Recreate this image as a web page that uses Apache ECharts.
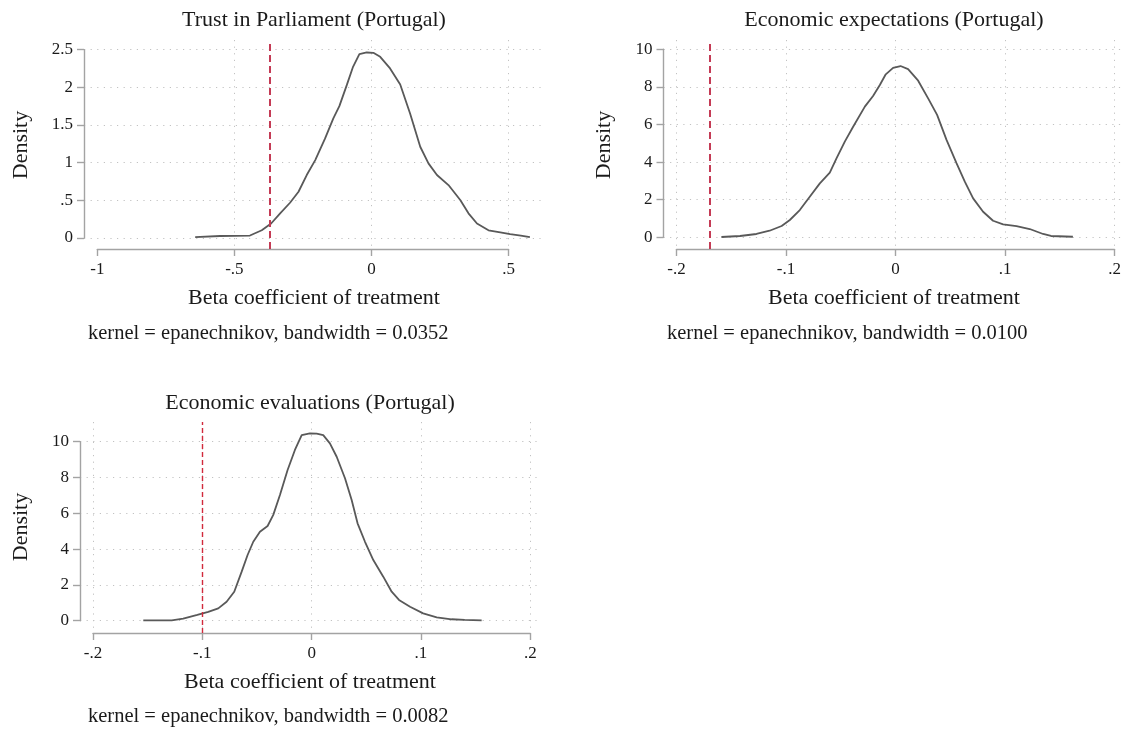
<!DOCTYPE html>
<html>
<head>
<meta charset="utf-8">
<script src="https://cdn.jsdelivr.net/npm/echarts@6/dist/echarts.min.js"></script>
<style>
html,body{margin:0;padding:0;background:#fff;}
#chart{width:1126px;height:731px;}
</style>
</head>
<body>
<div id="chart"></div>
<script>
// ---------- DATA ----------
const trustTitle = 'Trust in Parliament (Portugal)';
const trustNote = 'kernel = epanechnikov, bandwidth = 0.0352';
const trustX = [-0.643, -0.552, -0.443, -0.400, -0.366, -0.333, -0.297, -0.266, -0.236, -0.205, -0.169, -0.139, -0.117, -0.090, -0.068, -0.044, -0.017, 0.007, 0.032, 0.068, 0.105, 0.141, 0.178, 0.208, 0.239, 0.281, 0.324, 0.354, 0.385, 0.427, 0.470, 0.506, 0.545, 0.578];
const trustY = [0.01, 0.024, 0.03, 0.10, 0.19, 0.325, 0.466, 0.612, 0.834, 1.033, 1.321, 1.587, 1.750, 2.029, 2.264, 2.441, 2.463, 2.459, 2.405, 2.251, 2.038, 1.653, 1.21, 0.989, 0.834, 0.701, 0.502, 0.325, 0.19, 0.10, 0.073, 0.05, 0.03, 0.01];
const trustRef = [-0.366];
const trustXTicks = [-1, -0.5, 0, 0.5];
const trustYTicks = [0, 0.5, 1, 1.5, 2, 2.5];

const expTitle = 'Economic expectations (Portugal)';
const expNote = 'kernel = epanechnikov, bandwidth = 0.0100';
const expX = [-0.159, -0.142, -0.127, -0.115, -0.104, -0.0965, -0.0874, -0.0783, -0.0691, -0.060, -0.0539, -0.0463, -0.0387, -0.028, -0.0205, -0.0143, -0.0089, -0.0022, 0.0046, 0.0115, 0.0207, 0.0298, 0.038, 0.0466, 0.0557, 0.0633, 0.0709, 0.080, 0.0891, 0.0983, 0.1105, 0.1226, 0.1348, 0.142, 0.162];
const expY = [0.016, 0.07, 0.176, 0.35, 0.60, 0.92, 1.45, 2.16, 2.87, 3.44, 4.20, 5.09, 5.88, 6.95, 7.52, 8.10, 8.67, 9.01, 9.11, 8.95, 8.33, 7.39, 6.51, 5.18, 3.94, 2.96, 2.07, 1.36, 0.88, 0.69, 0.60, 0.44, 0.176, 0.07, 0.03];
const expRef = [-0.1687];
const expXTicks = [-0.2, -0.1, 0, 0.1, 0.2];
const expYTicks = [0, 2, 4, 6, 8, 10];

const evalTitle = 'Economic evaluations (Portugal)';
const evalNote = 'kernel = epanechnikov, bandwidth = 0.0082';
const evalX = [-0.154, -0.140, -0.128, -0.1175, -0.1046, -0.0946, -0.0854, -0.0778, -0.0708, -0.064, -0.0586, -0.0534, -0.0473, -0.0403, -0.0351, -0.029, -0.022, -0.0153, -0.0091, -0.0016, 0.0046, 0.0106, 0.0167, 0.0229, 0.0305, 0.0366, 0.042, 0.0488, 0.0564, 0.0655, 0.0732, 0.0799, 0.090, 0.102, 0.1144, 0.128, 0.140, 0.1555];
const evalY = [0.02, 0.02, 0.02, 0.11, 0.32, 0.49, 0.69, 1.06, 1.62, 2.74, 3.67, 4.41, 4.97, 5.29, 5.91, 7.02, 8.42, 9.54, 10.37, 10.47, 10.45, 10.37, 9.91, 9.16, 7.96, 6.74, 5.44, 4.41, 3.39, 2.46, 1.62, 1.16, 0.78, 0.41, 0.19, 0.08, 0.05, 0.02];
const evalRef = [-0.1046];
const evalXTicks = [-0.2, -0.1, 0, 0.1, 0.2];
const evalYTicks = [0, 2, 4, 6, 8, 10];

const xAxisTitle = 'Beta coefficient of treatment';
const yAxisTitle = 'Density';

// ---------- LAYOUT / STYLE ----------
const FONT = '"Liberation Serif", "Times New Roman", serif';
const TXT = '#1a1a1a';
const AXIS = '#a3a3a3';
const GRIDC = '#c2c2c2';
const CURVE = '#595959';

const panels = [
  { title: trustTitle, note: trustNote, xs: trustX, ys: trustY, ref: trustRef, xt: trustXTicks, yt: trustYTicks,
    L: { axL: 84, plotR: 544, plotT: 40, plotB: 249, xMinPx: 97.3, xMaxPx: 508.5, y0Px: 237.8, yTopPx: 49.7, axisY: 251,
         minGrid: false, titleP: [314, 20], yTitleP: [21, 145], xTitleP: [314, 298], noteP: [88, 334],
         red: '#c43b55', redW: 2, redDash: [7, 4] } },
  { title: expTitle, note: expNote, xs: expX, ys: expY, ref: expRef, xt: expXTicks, yt: expYTicks,
    L: { axL: 663.5, plotR: 1124, plotT: 40, plotB: 249, xMinPx: 676.5, xMaxPx: 1114.5, y0Px: 237.3, yTopPx: 49.3, axisY: 251,
         minGrid: true, titleP: [894, 20], yTitleP: [604, 145], xTitleP: [894, 298], noteP: [667, 334],
         red: '#c43b55', redW: 2, redDash: [7, 4] } },
  { title: evalTitle, note: evalNote, xs: evalX, ys: evalY, ref: evalRef, xt: evalXTicks, yt: evalYTicks,
    L: { axL: 80, plotR: 540, plotT: 422, plotB: 633, xMinPx: 93, xMaxPx: 530.3, y0Px: 620.7, yTopPx: 441.7, axisY: 635,
         minGrid: true, titleP: [310, 403], yTitleP: [21, 527], xTitleP: [310, 682], noteP: [88, 717],
         red: '#d12a3c', redW: 1.4, redDash: [5, 3] } }
];

function fmt(v) {
  let s = String(+(+v).toFixed(4));
  s = s.replace(/^0\./, '.').replace(/^-0\./, '-.');
  return s;
}

const grids = [], xAxes = [], yAxes = [], series = [], graphics = [];
const labelStyle = { fontFamily: FONT, fontSize: 17, color: TXT };
const dotted = { color: GRIDC, width: 1, type: [1.2, 5.4] };

panels.forEach(p => {
  const L = p.L;
  const xmin = p.xt[0], xmax = p.xt[p.xt.length - 1], xint = p.xt[1] - p.xt[0];
  const ymin = p.yt[0], ymax = p.yt[p.yt.length - 1], yint = p.yt[1] - p.yt[0];
  const kx = (L.xMaxPx - L.xMinPx) / (xmax - xmin);
  const ky = (L.y0Px - L.yTopPx) / (ymax - ymin);

  // grid for x axis display
  let gi = grids.length;
  grids.push({ left: L.xMinPx, width: L.xMaxPx - L.xMinPx, top: L.plotT, height: L.plotB - L.plotT });
  xAxes.push({ gridIndex: gi, type: 'value', min: xmin, max: xmax, interval: xint, position: 'bottom',
    offset: L.axisY - L.plotB,
    axisLine: { show: true, lineStyle: { color: AXIS, width: 1.4 } },
    axisTick: { show: true, length: 7, lineStyle: { color: AXIS, width: 1.4 } },
    axisLabel: Object.assign({ margin: 10, formatter: fmt, showMinLabel: true, showMaxLabel: true }, labelStyle),
    splitLine: { show: true, showMinLine: L.minGrid, showMaxLine: true, lineStyle: dotted } });
  yAxes.push({ gridIndex: gi, type: 'value', min: 0, max: 1, show: false });

  // grid for y axis display
  gi = grids.length;
  grids.push({ left: L.axL, width: L.plotR - L.axL, top: L.yTopPx, height: L.y0Px - L.yTopPx });
  xAxes.push({ gridIndex: gi, type: 'value', min: 0, max: 1, show: false });
  yAxes.push({ gridIndex: gi, type: 'value', min: ymin, max: ymax, interval: yint, position: 'left',
    axisLine: { show: true, lineStyle: { color: AXIS, width: 1.4 } },
    axisTick: { show: true, length: 7, lineStyle: { color: AXIS, width: 1.4 } },
    axisLabel: Object.assign({ margin: 11, formatter: fmt, showMinLabel: true, showMaxLabel: true }, labelStyle),
    splitLine: { show: true, showMinLine: true, showMaxLine: true, lineStyle: dotted } });

  // data grid
  gi = grids.length;
  grids.push({ left: L.axL, width: L.plotR - L.axL, top: L.plotT, height: L.plotB - L.plotT });
  xAxes.push({ gridIndex: gi, type: 'value', show: false,
    min: xmin + (L.axL - L.xMinPx) / kx, max: xmax + (L.plotR - L.xMaxPx) / kx });
  yAxes.push({ gridIndex: gi, type: 'value', show: false,
    min: ymin - (L.plotB - L.y0Px) / ky, max: ymin + (L.y0Px - L.plotT) / ky });

  series.push({
    type: 'line', xAxisIndex: gi, yAxisIndex: gi,
    data: p.xs.map((x, i) => [x, p.ys[i]]),
    showSymbol: false, symbol: 'none', smooth: false, clip: false,
    lineStyle: { color: CURVE, width: 1.8 },
    z: 3, silent: true, animation: false,
    markLine: {
      silent: true, symbol: 'none', animation: false,
      label: { show: false },
      lineStyle: { color: L.red, width: L.redW, type: L.redDash },
      data: p.ref.map(r => ({ xAxis: r }))
    }
  });

  const big = '22px ' + FONT;
  graphics.push({ type: 'text', x: L.titleP[0], y: L.titleP[1],
    style: { text: p.title, font: big, fill: TXT, align: 'center', verticalAlign: 'middle' } });
  graphics.push({ type: 'text', x: L.xTitleP[0], y: L.xTitleP[1],
    style: { text: xAxisTitle, font: big, fill: TXT, align: 'center', verticalAlign: 'middle' } });
  graphics.push({ type: 'text', x: L.yTitleP[0], y: L.yTitleP[1], rotation: Math.PI / 2,
    style: { text: yAxisTitle, font: big, fill: TXT, align: 'center', verticalAlign: 'middle' } });
  graphics.push({ type: 'text', x: L.noteP[0], y: L.noteP[1],
    style: { text: p.note, font: '20.5px ' + FONT, fill: TXT, align: 'left', verticalAlign: 'middle' } });
});

const chart = echarts.init(document.getElementById('chart'), null, { renderer: 'canvas' });
chart.setOption({
  backgroundColor: '#ffffff',
  animation: false,
  grid: grids,
  xAxis: xAxes,
  yAxis: yAxes,
  series: series,
  graphic: { elements: graphics }
});
</script>
</body>
</html>
